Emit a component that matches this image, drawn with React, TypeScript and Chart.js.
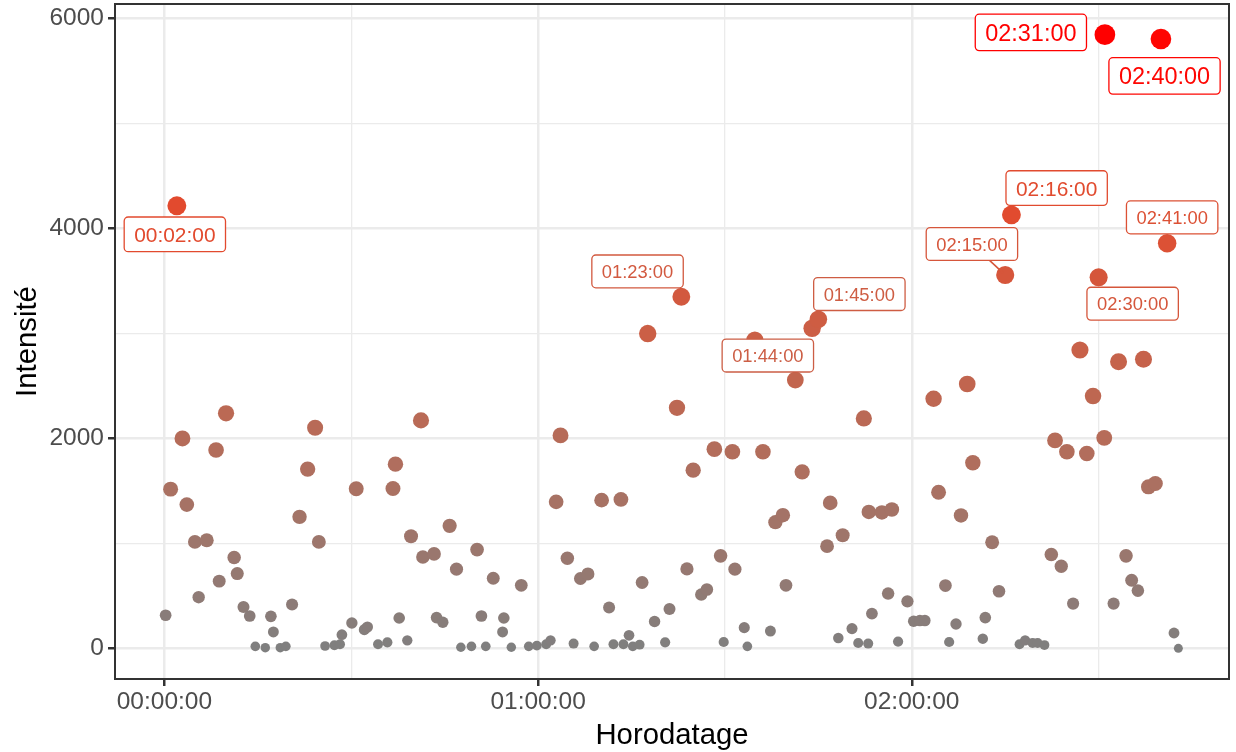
import React, { useEffect, useRef } from "react";
import { Chart, registerables } from "chart.js";

Chart.register(...registerables);

// ---- data (time in minutes since 00:00:00, intensity) ----
const minutes: number[] = [
  0.2, 1.0, 2, 2.9, 3.6, 4.9, 5.5, 6.8, 8.3, 8.8,
  9.9, 11.2, 11.7, 12.7, 13.7, 14.6, 16.2, 17.1, 17.5, 18.6,
  19.5, 20.5, 21.7, 23.0, 24.2, 24.8, 25.8, 27.3, 28.2, 28.5,
  30.1, 30.8, 32.1, 32.6, 34.3, 35.8, 37.1, 36.7, 37.7, 39.0,
  39.6, 41.2, 41.5, 43.3, 43.7, 44.7, 45.8, 46.9, 47.6, 49.3,
  50.2, 50.9, 51.6, 52.8, 54.3, 54.5, 55.7, 57.3, 58.5, 59.8,
  61.3, 62.0, 62.9, 63.6, 64.7, 65.7, 66.8, 68.0, 69.0, 70.2,
  71.4, 72.1, 73.3, 73.7, 74.6, 75.2, 76.3, 76.7, 77.6, 78.7,
  80.4, 81.1, 82.3, 83, 83.9, 84.9, 86.2, 87.1, 88.3, 89.3,
  89.8, 91.2, 91.6, 93.1, 93.6, 94.8, 96.1, 97.3, 98.1, 99.3,
  99.8, 101.3, 102.4, 104, 105, 106.4, 106.9, 108.2, 108.9, 110.4,
  111.4, 112.3, 113.0, 113.1, 113.6, 115.2, 116.2, 116.8, 117.8, 119.3,
  120.3, 121.3, 122.1, 123.5, 124.3, 125.4, 126.0, 127.1, 127.9, 128.9,
  129.8, 131.4, 131.8, 132.9, 134.0, 135, 136, 137.3, 138.2, 139.4,
  140.2, 141.3, 142.4, 143.0, 144.0, 144.9, 145.9, 147.0, 148.1, 149.1,
  150, 150.9, 151, 152.4, 153.2, 154.4, 155.3, 156.3, 157.2, 158.0,
  159.1, 160, 161, 162.1, 162.8,
];

const intensity: number[] = [
  315, 1517, 4217, 2000, 1370, 1014, 487, 1030, 1890, 640,
  2240, 865, 713, 394, 308, 19, 6, 305, 156, 6,
  19, 417, 1253, 1708, 2102, 1014, 22, 29, 38, 130,
  241, 1520, 178, 203, 38, 57, 1755, 1523, 289, 76,
  1068, 2172, 871, 900, 293, 248, 1167, 754, 10, 19,
  941, 308, 19, 668, 156, 289, 10, 601, 19, 26,
  38, 76, 1396, 2029, 859, 45, 665, 709, 19, 1412,
  388, 38, 1419, 38, 124, 19, 35, 627, 3000, 255,
  57, 375, 2292, 3350, 757, 1698, 512, 560, 1898, 881,
  60, 1873, 754, 197, 19, 2938, 1873, 165, 1202, 1269,
  601, 2557, 1682, 3050, 3136, 973, 1386, 98, 1078, 188,
  51, 2191, 45, 1300, 331, 1295, 522, 1323, 64, 448,
  258, 264, 264, 2378, 1488, 598, 60, 232, 1266, 2519,
  1768, 92, 293, 1011, 544, 3558, 4131, 38, 76, 51,
  51, 31, 894, 1981, 782, 1873, 426, 2843, 1857, 2404,
  3536, 2006, 5848, 426, 2731, 881, 649, 550, 2754, 1539,
  1571, 5807, 3861, 146, 0,
];

const xMajorTicks: number[] = [0, 60, 120];
const xMinorTicks: number[] = [30, 90, 150];
const yMajorTicks: number[] = [0, 2000, 4000, 6000];
const yMinorTicks: number[] = [1000, 3000, 5000];
const labelCount = 10;
const xTitle = "Horodatage";
const yTitle = "Intensité";

// ---- layout of the repelled labels (box-centre offset from the point, px; leader line) ----
const labelNudges: Record<number, [number, number, boolean]> = {
  2: [-2, 28.5, false],
  83: [-43.8, -25.4, false],
  104: [-44.3, 27.3, false],
  105: [41, -25.2, false],
  135: [-33.3, -31, true],
  136: [45.2, -26.8, false],
  150: [34, 26.4, false],
  151: [-74, -2.3, false],
  160: [3.6, 36.9, false],
  161: [5, -25.8, false],
};

const FONT = '"Liberation Sans", Arial, Helvetica, sans-serif';

// ---- colour scale: grey50 -> red, interpolated in CIE Lab (like ggplot2) ----
const toLin = (c: number) => {
  c /= 255;
  return c <= 0.04045 ? c / 12.92 : Math.pow((c + 0.055) / 1.055, 2.4);
};
const fromLin = (c: number) => {
  const v = c <= 0.0031308 ? 12.92 * c : 1.055 * Math.pow(c, 1 / 2.4) - 0.055;
  return Math.round(Math.max(0, Math.min(1, v)) * 255);
};
function rgbToLab(rgb: number[]) {
  const R = toLin(rgb[0]), G = toLin(rgb[1]), B = toLin(rgb[2]);
  const X = (0.4124 * R + 0.3576 * G + 0.1805 * B) / 0.95047;
  const Y = 0.2126 * R + 0.7152 * G + 0.0722 * B;
  const Z = (0.0193 * R + 0.1192 * G + 0.9505 * B) / 1.08883;
  const f = (t: number) => (t > 0.008856 ? Math.cbrt(t) : 7.787 * t + 16 / 116);
  const fx = f(X), fy = f(Y), fz = f(Z);
  return [116 * fy - 16, 500 * (fx - fy), 200 * (fy - fz)];
}
function labToRgb(L: number, a: number, b: number) {
  const fy = (L + 16) / 116, fx = fy + a / 500, fz = fy - b / 200;
  const inv = (t: number) => (t * t * t > 0.008856 ? t * t * t : (t - 16 / 116) / 7.787);
  const X = 0.95047 * inv(fx), Y = inv(fy), Z = 1.08883 * inv(fz);
  const R = 3.2406 * X - 1.5372 * Y - 0.4986 * Z;
  const G = -0.9689 * X + 1.8758 * Y + 0.0415 * Z;
  const B = 0.0557 * X - 0.204 * Y + 1.057 * Z;
  return `rgb(${fromLin(R)},${fromLin(G)},${fromLin(B)})`;
}
const LOW = rgbToLab([127, 127, 127]);
const HIGH = rgbToLab([255, 0, 0]);

const vMin = Math.min(...intensity);
const vMax = Math.max(...intensity);
const tOf = (v: number) => (v - vMin) / (vMax - vMin);
const colorOf = (v: number) => {
  const t = tOf(v);
  return labToRgb(
    LOW[0] + (HIGH[0] - LOW[0]) * t,
    LOW[1] + (HIGH[1] - LOW[1]) * t,
    LOW[2] + (HIGH[2] - LOW[2]) * t
  );
};
const radiusOf = (v: number) => 4.5 + 5.85 * Math.sqrt(tOf(v));
const labelFontOf = (v: number) => 10.7 + 2.55 * Math.floor(v / 1000);

const pad2 = (n: number) => (n < 10 ? "0" : "") + n;
const fmtTime = (m: number) => {
  const total = Math.round(m * 60);
  const h = Math.floor(total / 3600);
  const mm = Math.floor((total % 3600) / 60);
  const s = total % 60;
  return `${pad2(h)}:${pad2(mm)}:${pad2(s)}`;
};

export default function App() {
  const ref = useRef<HTMLCanvasElement | null>(null);

  useEffect(() => {
    const canvas = ref.current;
    if (!canvas) return;

    const xLo = Math.min(...minutes), xHi = Math.max(...minutes);
    const xPad = 0.05 * (xHi - xLo);
    const yPad = 0.05 * (vMax - vMin);

    const points = minutes.map((m, i) => ({ x: m, y: intensity[i] }));
    const colors = intensity.map(colorOf);
    const radii = intensity.map(radiusOf);

    const topIdx = intensity
      .map((_, i) => i)
      .sort((a, b) => intensity[b] - intensity[a])
      .slice(0, labelCount);

    const isMajorX = (v: number) => xMajorTicks.includes(v);
    const isMajorY = (v: number) => yMajorTicks.includes(v);

    const overlay = {
      id: "overlay",
      afterDatasetsDraw(chart: any) {
        const ctx = chart.ctx as CanvasRenderingContext2D;
        const xs = chart.scales.x, ys = chart.scales.y;
        ctx.save();
        for (const i of topIdx) {
          const px = xs.getPixelForValue(minutes[i]);
          const py = ys.getPixelForValue(intensity[i]);
          const nudge = labelNudges[Math.round(minutes[i])] || [0, -25, false];
          const cx = px + nudge[0], cy = py + nudge[1];
          const size = labelFontOf(intensity[i]);
          const col = colors[i];
          const text = fmtTime(minutes[i]);
          ctx.font = `${size}px ${FONT}`;
          const tw = ctx.measureText(text).width;
          const w = tw + 20, h = 20 + 0.7 * size;
          const x0 = cx - w / 2, y0 = cy - h / 2;
          if (nudge[2]) {
            const dx = px - cx, dy = py - cy;
            const tx = dx !== 0 ? (w / 2) / Math.abs(dx) : Infinity;
            const ty = dy !== 0 ? (h / 2) / Math.abs(dy) : Infinity;
            const t0 = Math.min(tx, ty);
            const sx = cx + dx * t0, sy = cy + dy * t0;
            const len = Math.hypot(px - sx, py - sy);
            const r = radii[i];
            const ex = px - ((px - sx) / len) * (r * 0.3);
            const ey = py - ((py - sy) / len) * (r * 0.3);
            ctx.strokeStyle = col;
            ctx.lineWidth = 1.6;
            ctx.beginPath();
            ctx.moveTo(sx, sy);
            ctx.lineTo(ex, ey);
            ctx.stroke();
          }
          const rr = 4;
          ctx.beginPath();
          ctx.moveTo(x0 + rr, y0);
          ctx.lineTo(x0 + w - rr, y0);
          ctx.arcTo(x0 + w, y0, x0 + w, y0 + rr, rr);
          ctx.lineTo(x0 + w, y0 + h - rr);
          ctx.arcTo(x0 + w, y0 + h, x0 + w - rr, y0 + h, rr);
          ctx.lineTo(x0 + rr, y0 + h);
          ctx.arcTo(x0, y0 + h, x0, y0 + h - rr, rr);
          ctx.lineTo(x0, y0 + rr);
          ctx.arcTo(x0, y0, x0 + rr, y0, rr);
          ctx.closePath();
          ctx.fillStyle = "#ffffff";
          ctx.fill();
          ctx.strokeStyle = col;
          ctx.lineWidth = 1.3;
          ctx.stroke();
          ctx.fillStyle = col;
          ctx.textAlign = "center";
          ctx.textBaseline = "alphabetic";
          ctx.fillText(text, cx, cy + 0.358 * size);
        }
        ctx.restore();
      },
      afterDraw(chart: any) {
        const ctx = chart.ctx as CanvasRenderingContext2D;
        const a = chart.chartArea;
        ctx.save();
        ctx.strokeStyle = "#333333";
        ctx.lineWidth = 2;
        ctx.strokeRect(a.left, a.top, a.right - a.left, a.bottom - a.top);
        ctx.fillStyle = "#000000";
        ctx.font = `29.3px ${FONT}`;
        ctx.textAlign = "center";
        ctx.textBaseline = "alphabetic";
        ctx.fillText(xTitle, (a.left + a.right) / 2, 744);
        ctx.translate(36, (a.top + a.bottom) / 2);
        ctx.rotate(-Math.PI / 2);
        ctx.fillText(yTitle, 0, 0);
        ctx.restore();
      },
    };

    const chart = new Chart(canvas, {
      type: "scatter",
      data: {
        datasets: [
          {
            data: points,
            pointBackgroundColor: colors,
            pointBorderColor: colors,
            pointBorderWidth: 0,
            pointRadius: radii,
            pointHoverRadius: radii,
          },
        ],
      },
      options: {
        animation: false,
        responsive: false,
        devicePixelRatio: 1,
        events: [],
        layout: { autoPadding: false, padding: { top: 4, right: 7, left: 0, bottom: 0 } },
        plugins: { legend: { display: false }, tooltip: { enabled: false } },
        scales: {
          x: {
            type: "linear",
            min: xLo - xPad,
            max: xHi + xPad,
            afterBuildTicks: (scale: any) => {
              scale.ticks = [...xMajorTicks, ...xMinorTicks]
                .sort((a, b) => a - b)
                .map((v) => ({ value: v }));
            },
            afterFit: (scale: any) => {
              scale.height = 73;
              scale.paddingLeft = 0;
              scale.paddingRight = 0;
              scale.paddingTop = 0;
              scale.paddingBottom = 0;
            },
            border: { display: false },
            grid: {
              color: "#EBEBEB",
              lineWidth: (c: any) => (isMajorX(c.tick?.value) ? 2.5 : 1.3),
              tickColor: (c: any) => (isMajorX(c.tick?.value) ? "#333333" : "rgba(0,0,0,0)"),
              tickWidth: 2.5,
              tickLength: 7,
              drawTicks: true,
            },
            ticks: {
              autoSkip: false,
              maxRotation: 0,
              padding: 2,
              color: "#4D4D4D",
              font: { family: FONT, size: 24.5 },
              callback: (v: any) => (isMajorX(Number(v)) ? fmtTime(Number(v)) : ""),
            },
          },
          y: {
            type: "linear",
            min: vMin - yPad,
            max: vMax + yPad,
            afterBuildTicks: (scale: any) => {
              scale.ticks = [...yMajorTicks, ...yMinorTicks]
                .sort((a, b) => a - b)
                .map((v) => ({ value: v }));
            },
            afterFit: (scale: any) => {
              scale.width = 115;
              scale.paddingLeft = 0;
              scale.paddingRight = 0;
              scale.paddingTop = 0;
              scale.paddingBottom = 0;
            },
            border: { display: false },
            grid: {
              color: "#EBEBEB",
              lineWidth: (c: any) => (isMajorY(c.tick?.value) ? 2.5 : 1.3),
              tickColor: (c: any) => (isMajorY(c.tick?.value) ? "#333333" : "rgba(0,0,0,0)"),
              tickWidth: 2.5,
              tickLength: 7,
              drawTicks: true,
            },
            ticks: {
              autoSkip: false,
              padding: 4,
              color: "#4D4D4D",
              font: { family: FONT, size: 24.5 },
              callback: (v: any) => (isMajorY(Number(v)) ? String(v) : ""),
            },
          },
        },
      },
      plugins: [overlay],
    } as any);

    return () => chart.destroy();
  }, []);

  return (
    <div
      style={{
        position: "fixed",
        left: 0,
        top: 0,
        width: 1236,
        height: 752,
        background: "#ffffff",
      }}
    >
      <canvas ref={ref} width={1236} height={752} style={{ display: "block" }} />
    </div>
  );
}
